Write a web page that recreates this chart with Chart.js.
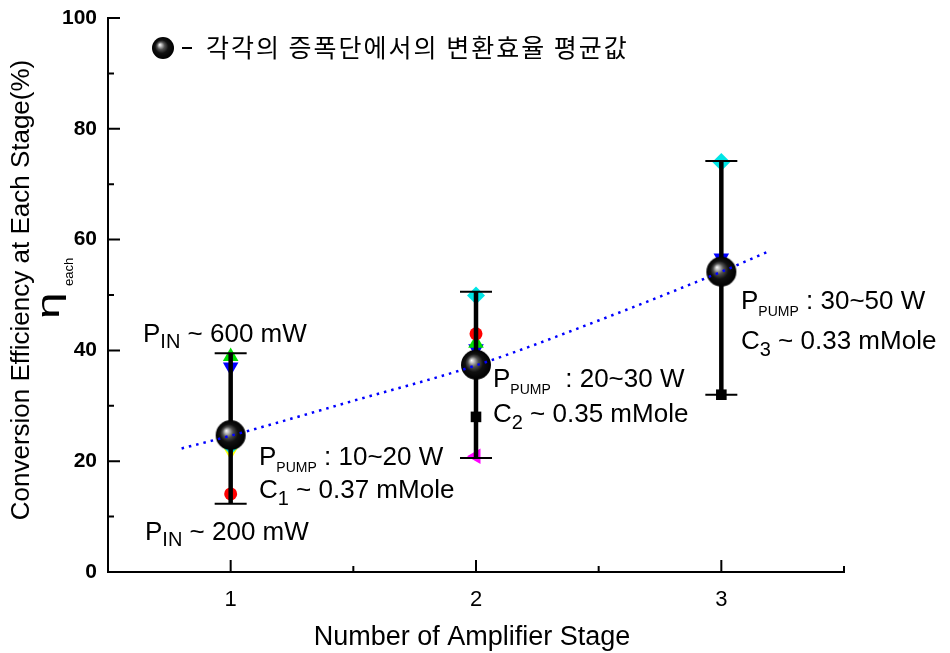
<!DOCTYPE html>
<html>
<head>
<meta charset="utf-8">
<script src="https://cdn.jsdelivr.net/npm/chart.js@4/dist/chart.umd.min.js"></script>
<style>
  html, body { margin: 0; padding: 0; background: #fff; }
  #wrap { width: 950px; height: 653px; }
</style>
</head>
<body>
<div id="wrap"><canvas id="chart" width="950" height="653"></canvas></div>
<script>
// Stage data
const stages = [1, 2, 3];
const meanEff = [24.7, 37.4, 54.2];
const errLow = [12.3, 20.6, 32.0];
const errHigh = [39.5, 50.6, 74.2];

// individual measurements at each stage (null = not visible)
const redPts = [14.1, 43.0, null];
const greenPts = [38.9, 41.3, null];
const bluePts = [37.0, 40.3, 56.7];
const cyanPts = [22.8, 49.9, 74.0];
const yellowPts = [21.8, null, null];
const blackPts = [null, 28.0, 32.0];
const magentaPts = [null, 20.9, null];

// dotted trend curve
const fitX = [0.8, 1, 1.5, 2, 2.5, 3, 3.2];
const fitY = [22.3, 24.6, 30.9, 37.3, 45.4, 54.2, 58.0];

const xTicks = [1, 2, 3];
const xMinor = [1.5, 2.5, 3.5];
const yTicks = [0, 20, 40, 60, 80, 100];
const yMinor = [10, 30, 50, 70, 90];

const FONT = '"Liberation Sans", Arial, sans-serif';

function pts(vals) {
    return stages.map((s, i) => ({ x: s, y: vals[i] })).filter(p => p.y !== null);
}

// black glossy sphere used for the mean values
function makeSphere(r) {
    const c = document.createElement('canvas');
    c.width = c.height = 2 * r + 2;
    const g = c.getContext('2d');
    const cx = r + 1;
    const grad = g.createRadialGradient(cx - r * 0.3, cx - r * 0.3, 0, cx, cx, r);
    grad.addColorStop(0, '#ffffff');
    grad.addColorStop(0.12, '#c8c8c8');
    grad.addColorStop(0.35, '#505050');
    grad.addColorStop(0.6, '#111111');
    grad.addColorStop(1, '#000000');
    g.fillStyle = grad;
    g.beginPath();
    g.arc(cx, cx, r, 0, Math.PI * 2);
    g.fill();
    return c;
}
const bigSphere = makeSphere(15);
const smallSphere = makeSphere(11);

function marker(vals, color, style, rotation, radius) {
    return {
        data: pts(vals),
        backgroundColor: color,
        borderColor: color,
        borderWidth: 0,
        pointStyle: style,
        rotation: rotation || 0,
        pointRadius: radius || 6,
        order: 2
    };
}

function richText(ctx, x, y, parts) {
    let cx = x;
    parts.forEach(p => {
        ctx.font = p.size + 'px ' + FONT;
        ctx.fillText(p.t, cx, y + (p.dy || 0));
        cx += ctx.measureText(p.t).width;
    });
}

// error bars go under the spheres
const errorBars = {
    id: 'errorBars',
    beforeDatasetDraw(chart, args) {
        if (args.index !== 7) return;
        const ctx = chart.ctx;
        const xs = chart.scales.x, ys = chart.scales.y;
        ctx.save();
        ctx.strokeStyle = '#000';
        stages.forEach((s, i) => {
            const px = xs.getPixelForValue(s);
            const top = ys.getPixelForValue(errHigh[i]);
            const bot = ys.getPixelForValue(errLow[i]);
            ctx.lineWidth = 4.5;
            ctx.beginPath();
            ctx.moveTo(px, top);
            ctx.lineTo(px, bot);
            ctx.stroke();
            ctx.lineWidth = 2;
            ctx.beginPath();
            ctx.moveTo(px - 16, top); ctx.lineTo(px + 16, top);
            ctx.moveTo(px - 16, bot); ctx.lineTo(px + 16, bot);
            ctx.stroke();
        });
        ctx.restore();
    }
};

const decorations = {
    id: 'decorations',
    afterDraw(chart) {
        const ctx = chart.ctx;
        const xs = chart.scales.x, ys = chart.scales.y;
        const a = chart.chartArea;
        ctx.save();
        ctx.strokeStyle = '#000';
        ctx.lineWidth = 2;
        ctx.beginPath();
        // inward ticks
        yTicks.forEach(v => { const p = ys.getPixelForValue(v); ctx.moveTo(a.left, p); ctx.lineTo(a.left + 12, p); });
        yMinor.forEach(v => { const p = ys.getPixelForValue(v); ctx.moveTo(a.left, p); ctx.lineTo(a.left + 6, p); });
        xTicks.forEach(v => { const p = xs.getPixelForValue(v); ctx.moveTo(p, a.bottom); ctx.lineTo(p, a.bottom - 12); });
        xMinor.forEach(v => { const p = xs.getPixelForValue(v); ctx.moveTo(p, a.bottom); ctx.lineTo(p, a.bottom - 6); });
        ctx.stroke();

        ctx.fillStyle = '#000';
        ctx.textBaseline = 'alphabetic';

        // x title
        ctx.textAlign = 'center';
        ctx.font = '27px ' + FONT;
        ctx.fillText('Number of Amplifier Stage', 472, 645);

        // y title + eta
        ctx.save();
        ctx.translate(29, 290);
        ctx.rotate(-Math.PI / 2);
        ctx.font = '26px ' + FONT;
        ctx.fillText('Conversion Efficiency at Each Stage(%)', 0, 0);
        ctx.restore();

        ctx.save();
        ctx.translate(59, 319);
        ctx.rotate(-Math.PI / 2);
        ctx.textAlign = 'left';
        ctx.save();
        ctx.scale(1.5, 1);
        ctx.font = '32px ' + FONT;
        ctx.fillText('\u03b7', 0, 0);
        ctx.restore();
        ctx.font = '13px ' + FONT;
        ctx.fillText('each', 33, 14);
        ctx.restore();

        // legend
        ctx.textAlign = 'left';
        ctx.drawImage(smallSphere, 163 - 12, 48 - 12);
        ctx.fillRect(182, 47, 10, 2);
        ctx.font = '25px "Noto Sans CJK KR", sans-serif';
        ctx.letterSpacing = '2px';
        ctx.fillText('\uAC01\uAC01\uC758 \uC99D\uD3ED\uB2E8\uC5D0\uC11C\uC758 \uBCC0\uD658\uD6A8\uC728 \uD3C9\uADE0\uAC12', 206, 57);
        ctx.letterSpacing = '0px';

        // annotations
        const big = 26, sub = 20, tiny = 14;
        richText(ctx, 143, 342, [{ t: 'P', size: big }, { t: 'IN', size: sub, dy: 6 }, { t: ' ~ 600 mW', size: big }]);
        richText(ctx, 145, 540, [{ t: 'P', size: big }, { t: 'IN', size: sub, dy: 6 }, { t: ' ~ 200 mW', size: big }]);

        richText(ctx, 259, 465, [{ t: 'P', size: big }, { t: 'PUMP', size: tiny, dy: 7 }, { t: ' : 10~20 W', size: big }]);
        richText(ctx, 259, 498, [{ t: 'C', size: big }, { t: '1', size: sub, dy: 7 }, { t: ' ~ 0.37 mMole', size: big }]);

        richText(ctx, 493, 387, [{ t: 'P', size: big }, { t: 'PUMP', size: tiny, dy: 7 }, { t: '  : 20~30 W', size: big }]);
        richText(ctx, 493, 422, [{ t: 'C', size: big }, { t: '2', size: sub, dy: 7 }, { t: ' ~ 0.35 mMole', size: big }]);

        richText(ctx, 741, 309, [{ t: 'P', size: big }, { t: 'PUMP', size: tiny, dy: 7 }, { t: ' : 30~50 W', size: big }]);
        richText(ctx, 741, 349, [{ t: 'C', size: big }, { t: '3', size: sub, dy: 7 }, { t: ' ~ 0.33 mMole', size: big }]);
        ctx.restore();
    }
};

new Chart(document.getElementById('chart'), {
    type: 'scatter',
    data: {
        datasets: [
            marker(redPts, '#ff0000', 'circle', 0, 6.5),
            marker(greenPts, '#00dd00', 'triangle', 0, 9),
            marker(bluePts, '#0000ff', 'triangle', 180, 9),
            marker(cyanPts, '#00e5e5', 'rectRot', 0, 9),
            marker(yellowPts, '#ffff00', 'triangle', 180, 9),
            marker(blackPts, '#000000', 'rect', 0, 7.5),
            marker(magentaPts, '#ff00ff', 'triangle', -90, 9),
            {
                data: pts(meanEff),
                pointStyle: bigSphere,
                pointRadius: 15,
                order: 1
            },
            {
                type: 'line',
                data: fitX.map((x, i) => ({ x: x, y: fitY[i] })),
                showLine: true,
                borderColor: '#0000ff',
                borderWidth: 2.5,
                borderDash: [2.5, 5],
                pointRadius: 0,
                cubicInterpolationMode: 'monotone',
                fill: false,
                order: 0
            }
        ]
    },
    options: {
        responsive: false,
        animation: false,
        events: [],
        layout: { padding: { top: 18, right: 106, left: 0, bottom: 0 } },
        plugins: { legend: { display: false }, tooltip: { enabled: false } },
        scales: {
            x: {
                type: 'linear',
                min: 0.5,
                max: 3.5,
                afterBuildTicks(scale) { scale.ticks = xTicks.map(v => ({ value: v })); },
                afterFit(scale) { scale.height = 81; },
                grid: { display: false },
                border: { display: true, color: '#000', width: 2 },
                ticks: { color: '#000', padding: 7, font: { family: FONT, size: 22 } }
            },
            y: {
                min: 0,
                max: 100,
                afterBuildTicks(scale) { scale.ticks = yTicks.map(v => ({ value: v })); },
                afterFit(scale) { scale.width = 108; },
                grid: { display: false },
                border: { display: true, color: '#000', width: 2 },
                ticks: { color: '#000', padding: 3, font: { family: FONT, size: 21, weight: 'bold' } }
            }
        }
    },
    plugins: [errorBars, decorations]
});
</script>
</body>
</html>
